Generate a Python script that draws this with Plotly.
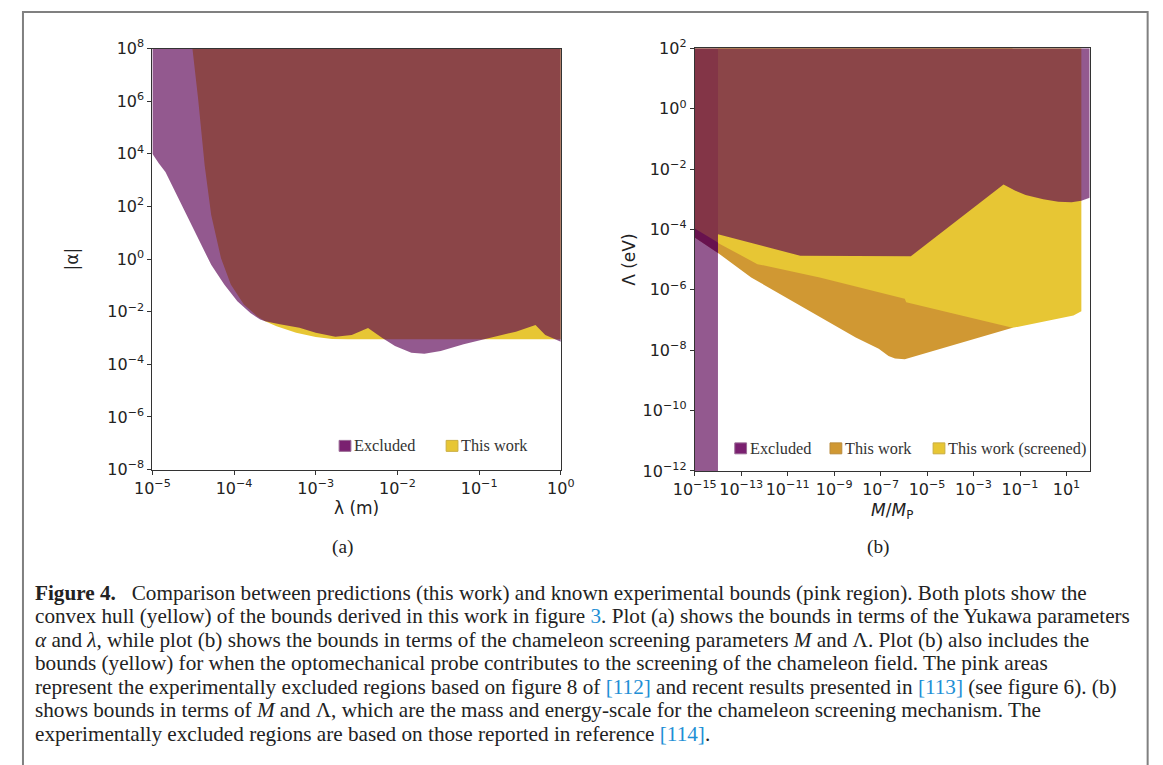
import plotly.graph_objects as go

W, H = 1163, 765

# ---------------- Panel (a): Yukawa parameters (log10 values) ----------------
lam_excl_exp = [-5.0, -4.99, -4.92, -4.84, -4.72, -4.60, -4.48, -4.40, -4.28, -4.12,
                -3.96, -3.80, -3.68, -3.62, -3.44, -3.20, -3.00, -2.76, -2.56, -2.36,
                -2.19, -2.03, -1.83, -1.67, -1.47, -1.19, -0.95, -0.75, -0.55, -0.31,
                -0.19, 0.0]
alpha_excl_exp = [4.0, 3.95, 3.63, 3.31, 2.56, 1.80, 1.04, 0.54, -0.22, -0.97,
                  -1.60, -2.05, -2.30, -2.36, -2.48, -2.61, -2.80, -2.95, -2.89, -2.62,
                  -2.99, -3.30, -3.56, -3.60, -3.49, -3.24, -3.05, -2.89, -2.76, -2.51,
                  -2.89, -3.14]
lam_work_exp = [-4.51, -4.44, -4.36, -4.28, -4.16, -4.04, -3.88, -3.72, -3.62, -3.48,
                -3.24, -3.00, -2.80, -2.60, 0.0]
alpha_work_exp = [8.0, 6.08, 3.56, 1.67, 0.03, -0.97, -1.73, -2.17, -2.36, -2.55,
                  -2.80, -2.96, -3.04, -3.05, -3.05]
a_xticks_exp = [-5, -4, -3, -2, -1, 0]
a_yticks_exp = [8, 6, 4, 2, 0, -2, -4, -6, -8]
a_xrange = [-5, 0]
a_yrange = [-8, 8]

# ---------------- Panel (b): chameleon parameters (log10 values) ----------------
M_excl_exp = [-15.0, -14.0, -14.0, -10.46, -5.70, -1.71, -1.20, -0.76, 0.0, 0.65, 1.22, 1.64, 2.0]
Lam_excl_exp = [-4.27, -4.78, -4.16, -4.87, -4.89, -2.51, -2.72, -2.86, -3.00, -3.08, -3.10, -3.05, -2.95]
M_strip_exp = [-15.0, -14.0]
Lam_strip_top_exp = [-3.97, -4.43]
M_work_exp = [-15.0, -14.0, -12.57, -8.07, -7.08, -6.66, -6.38, -5.96, -1.32]
Lam_work_exp = [-4.27, -4.78, -5.59, -7.58, -7.95, -8.19, -8.28, -8.30, -7.26]
M_scr_exp = [-14.0, -12.3, -9.62, -5.96, -5.90, -1.32, 1.30, 1.64]
Lam_scr_exp = [-4.45, -5.15, -5.59, -6.30, -6.41, -7.26, -6.85, -6.71]
b_xticks_exp = [-15, -13, -11, -9, -7, -5, -3, -1, 1]
b_yticks_exp = [2, 0, -2, -4, -6, -8, -10, -12]
b_xrange = [-15, 2]
b_yrange = [-12, 2]

PURPLE = "rgba(89,0,83,0.65)"
PURPLE_KEY = "rgb(122,32,112)"
YELLOW = "#e7c634"
ORANGE = "#d09833"
TICKFONT = dict(family="DejaVu Sans", size=16, color="#222")
TITLEFONT = dict(family="DejaVu Sans", size=17, color="#222")
SERIF = "Liberation Serif"

# The page is photographed with its 8 px body margin and then fitted to the
# window, so screen positions are mapped back to figure (paper) fractions.
SX, CX = 0.987, 10.5
SY, CY = 0.978, 8.2


def X(t):
    return (t - CX) / SX / W


def Y(t):
    return 1 - (t - CY) / SY / H


def p(v):
    return 10 ** v


def region_above(xe, ye, top):
    xs = [p(v) for v in xe] + [p(xe[-1]), p(xe[0])]
    ys = [p(v) for v in ye] + [p(top), p(top)]
    return xs, ys


def sup(e):
    s = str(e).replace("-", "\u2212")
    return f"10<sup>{s}</sup>"


fig = go.Figure()


def add_fill(xs, ys, color, xa, ya):
    fig.add_trace(go.Scatter(x=xs, y=ys, mode="lines", fill="toself", fillcolor=color,
                             line=dict(width=0), hoverinfo="skip", showlegend=False,
                             xaxis=xa, yaxis=ya))


# Panel (a)
xs, ys = region_above(lam_work_exp, alpha_work_exp, a_yrange[1])
add_fill(xs, ys, YELLOW, "x", "y")
xs, ys = region_above(lam_excl_exp, alpha_excl_exp, a_yrange[1])
add_fill(xs, ys, PURPLE, "x", "y")

# Panel (b)
xs, ys = region_above(M_work_exp, Lam_work_exp, b_yrange[1])
add_fill(xs, ys, ORANGE, "x2", "y2")
xs, ys = region_above(M_scr_exp, Lam_scr_exp, b_yrange[1])
add_fill(xs, ys, YELLOW, "x2", "y2")
strip_x = [p(M_strip_exp[0]), p(M_strip_exp[1]), p(M_strip_exp[1]), p(M_strip_exp[0])]
strip_y = [p(b_yrange[0]), p(b_yrange[0]), p(Lam_strip_top_exp[1]), p(Lam_strip_top_exp[0])]
add_fill(strip_x, strip_y, PURPLE, "x2", "y2")
xs, ys = region_above(M_excl_exp, Lam_excl_exp, b_yrange[1])
add_fill(xs, ys, PURPLE, "x2", "y2")

axis_common = dict(type="log", showgrid=False, zeroline=False, showline=True, mirror=True,
                   linecolor="#333", linewidth=1, ticks="outside", ticklen=4, tickwidth=1,
                   tickcolor="#333", tickfont=TICKFONT)

fig.update_layout(
    width=W, height=H, autosize=False,
    margin=dict(l=0, r=0, t=0, b=0),
    paper_bgcolor="white", plot_bgcolor="white",
    showlegend=False,
    xaxis=dict(axis_common, domain=[X(143.3), X(559.3)], range=a_xrange,
               tickvals=[p(v) for v in a_xticks_exp], ticktext=[sup(v) for v in a_xticks_exp],
               title=dict(text="\u03bb (m)", font=TITLEFONT, standoff=2),
               anchor="y"),
    yaxis=dict(axis_common, domain=[Y(469.3), Y(46)], range=a_yrange,
               tickvals=[p(v) for v in a_yticks_exp], ticktext=[sup(v) for v in a_yticks_exp],
               title=dict(text="|\u03b1|", font=TITLEFONT, standoff=24),
               anchor="x"),
    xaxis2=dict(axis_common, domain=[X(695.7), X(1098)], range=b_xrange,
                tickvals=[p(v) for v in b_xticks_exp], ticktext=[sup(v) for v in b_xticks_exp],
                title=dict(text="<i>M</i>/<i>M</i><sub>P</sub>", font=TITLEFONT, standoff=5),
                anchor="y2"),
    yaxis2=dict(axis_common, domain=[Y(470.7), Y(45.7)], range=b_yrange,
                tickvals=[p(v) for v in b_yticks_exp], ticktext=[sup(v) for v in b_yticks_exp],
                title=dict(text="\u039b (eV)", font=TITLEFONT, standoff=2),
                anchor="x2"),
)

shapes = []
annotations = []

# outer frame of the figure box
shapes.append(dict(type="rect", xref="paper", yref="paper", x0=1 / W, x1=X(1157),
                   y0=-0.05, y1=1 - 1 / H, line=dict(color="#808080", width=2), layer="below"))


def legend_item(x0, ymid, color, text, edge):
    shapes.append(dict(type="rect", xref="paper", yref="paper",
                       x0=X(x0), x1=X(x0 + 12), y0=Y(ymid + 5.5), y1=Y(ymid - 5.5),
                       fillcolor=color, line=dict(color=edge, width=1)))
    annotations.append(dict(xref="paper", yref="paper", x=X(x0 + 13), y=Y(ymid),
                            xanchor="left", yanchor="middle", align="left", showarrow=False,
                            text=text, font=dict(family=SERIF, size=16.3, color="#333")))


legend_item(333.5, 445.5, PURPLE_KEY, "Excluded", "#9a6a95")
legend_item(442.5, 445.5, YELLOW, "This work", "#c9ad40")
legend_item(736.5, 448, PURPLE_KEY, "Excluded", "#9a6a95")
legend_item(833.5, 448, ORANGE, "This work", "#b98a3a")
legend_item(938.5, 448, YELLOW, "This work (screened)", "#c9ad40")

for lab, xc in [("(a)", 337), ("(b)", 882)]:
    annotations.append(dict(xref="paper", yref="paper", x=X(xc), y=Y(547),
                            xanchor="center", yanchor="middle", showarrow=False, text=lab,
                            font=dict(family=SERIF, size=19.3, color="#222")))

BLUE = "#1e8fd5"


def ref(t):
    return f"<span style='color:{BLUE}'>{t}</span>"


caption_lines = [
    "<b>Figure 4.</b>\u00a0\u00a0 Comparison between predictions (this work) and known experimental bounds (pink region). Both plots show the",
    "convex hull (yellow) of the bounds derived in this work in figure " + ref("3") + ". Plot (a) shows the bounds in terms of the Yukawa parameters",
    "<i>\u03b1</i> and <i>\u03bb</i>, while plot (b) shows the bounds in terms of the chameleon screening parameters <i>M</i> and \u039b. Plot (b) also includes the",
    "bounds (yellow) for when the optomechanical probe contributes to the screening of the chameleon field. The pink areas",
    "represent the experimentally excluded regions based on figure 8 of " + ref("[112]") + " and recent results presented in " + ref("[113]") + " (see figure 6). (b)",
    "shows bounds in terms of <i>M</i> and \u039b, which are the mass and energy-scale for the chameleon screening mechanism. The",
    "experimentally excluded regions are based on those reported in reference " + ref("[114]") + ".",
]
caption_y = [593, 617, 641, 664, 688, 711, 735]
for txt, yc in zip(caption_lines, caption_y):
    annotations.append(dict(xref="paper", yref="paper", x=X(22), y=Y(yc),
                            xanchor="left", yanchor="middle", align="left", showarrow=False,
                            text=txt, font=dict(family=SERIF, size=21.2, color="#222")))

fig.update_layout(shapes=shapes, annotations=annotations)
fig.write_html("out.html")
